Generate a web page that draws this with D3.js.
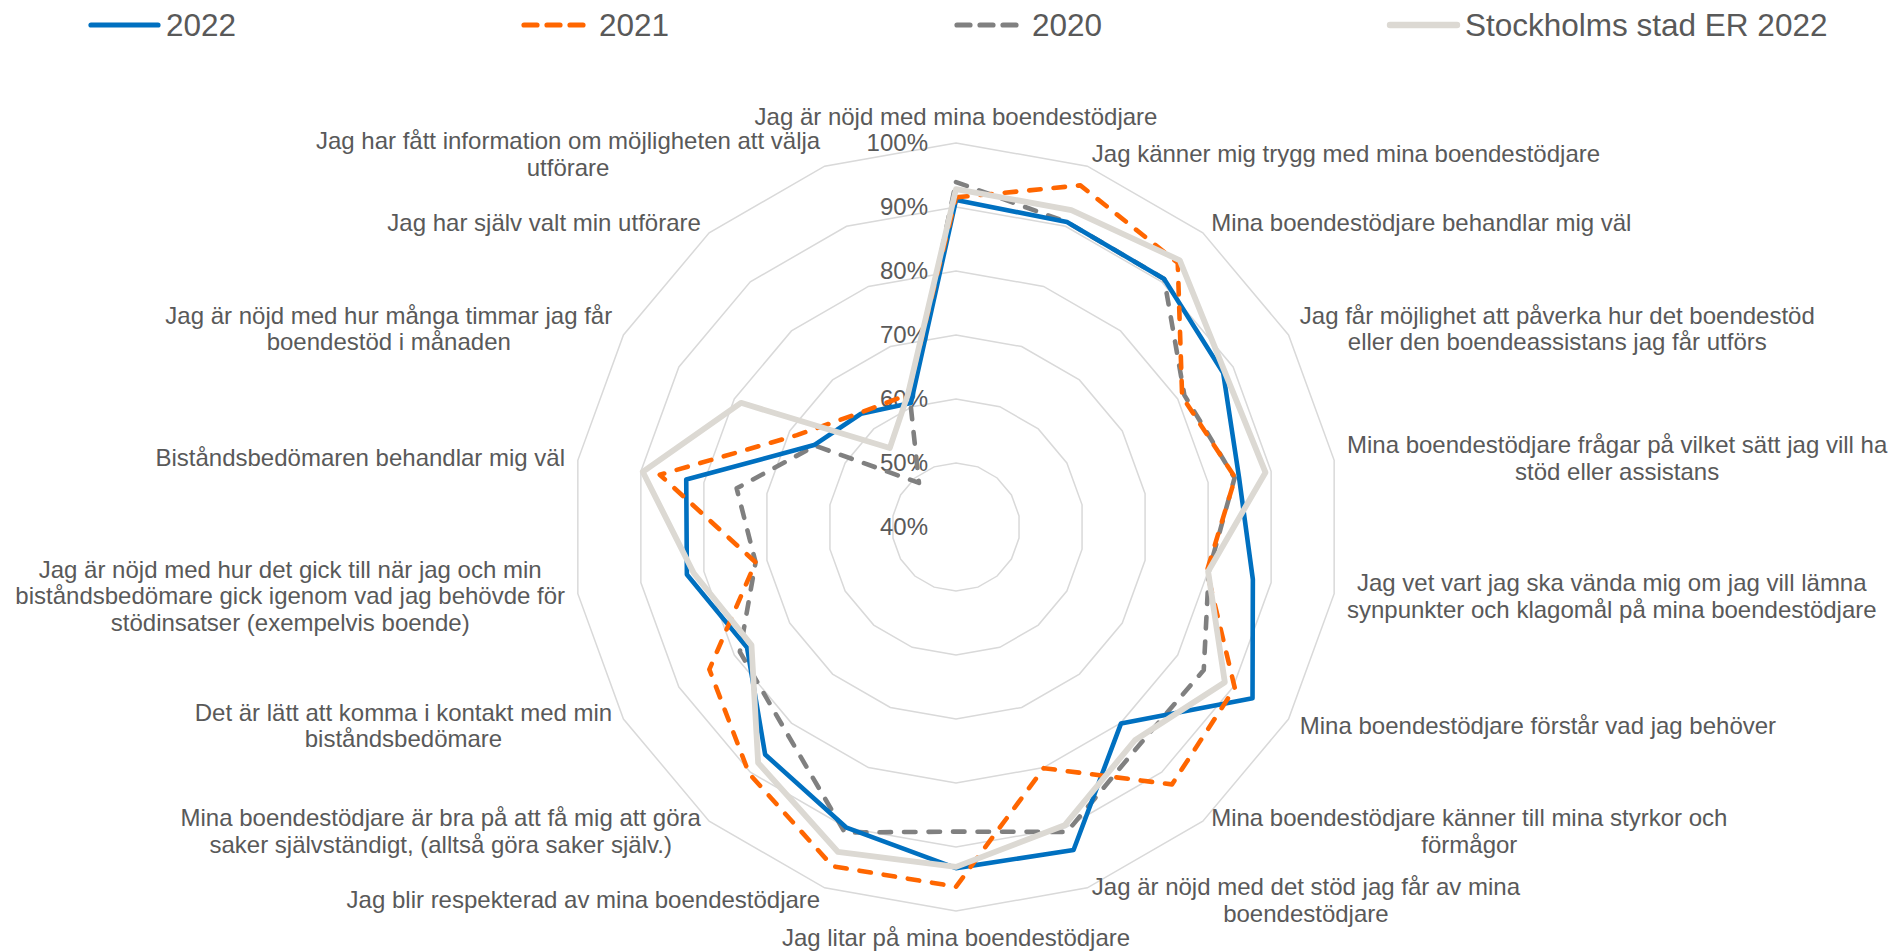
<!DOCTYPE html>
<html><head><meta charset="utf-8">
<script src="https://cdn.jsdelivr.net/npm/d3@7"></script>
<style>
html,body{margin:0;padding:0;background:#fff;overflow:hidden;}
svg{display:block;}
text{font-family:"Liberation Sans",Arial,sans-serif;fill:#595959;}
</style>
</head><body>
<svg id="chart" width="1891" height="952"></svg>
<script>
// ---- data ----
const categories = [
  ["Jag är nöjd med mina boendestödjare"],
  ["Jag känner mig trygg med mina boendestödjare"],
  ["Mina boendestödjare behandlar mig väl"],
  ["Jag får möjlighet att påverka hur det boendestöd", "eller den boendeassistans jag får utförs"],
  ["Mina boendestödjare frågar på vilket sätt jag vill ha", "stöd eller assistans"],
  ["Jag vet vart jag ska vända mig om jag vill lämna", "synpunkter och klagomål på mina boendestödjare"],
  ["Mina boendestödjare förstår vad jag behöver"],
  ["Mina boendestödjare känner till mina styrkor och", "förmågor"],
  ["Jag är nöjd med det stöd jag får av mina", "boendestödjare"],
  ["Jag litar på mina boendestödjare"],
  ["Jag blir respekterad av mina boendestödjare"],
  ["Mina boendestödjare är bra på att få mig att göra", "saker självständigt, (alltså göra saker själv.)"],
  ["Det är lätt att komma i kontakt med min", "biståndsbedömare"],
  ["Jag är nöjd med hur det gick till när jag och min", "biståndsbedömare gick igenom vad jag behövde för", "stödinsatser (exempelvis boende)"],
  ["Biståndsbedömaren behandlar mig väl"],
  ["Jag är nöjd med hur många timmar jag får", "boendestöd i månaden"],
  ["Jag har själv valt min utförare"],
  ["Jag har fått information om möjligheten att välja", "utförare"]
];

const values2022 = [91.1, 90.7, 90.6, 88.2, 84.9, 87.1, 93.5, 80.1, 93.7, 93.3, 90.0, 86.4, 77.7, 82.7, 82.8, 65.6, 63.1, 60.6];
const values2021 = [91.5, 96.8, 93.9, 80.8, 84.3, 79.8, 90.3, 92.5, 80.1, 96.2, 96.4, 90.3, 84.5, 71.8, 87.0, 68.7, 63.3, 62.0];
const values2020 = [93.9, 90.7, 90.6, 81.2, 84.2, 80.1, 84.7, 84.5, 90.7, 87.6, 90.8, 81.5, 79.0, 71.8, 74.8, 65.4, 49.0, 60.9];
const valuesStockholm = [92.8, 92.7, 94.4, 88.5, 89.1, 80.0, 88.5, 83.5, 89.6, 93.1, 94.0, 88.1, 76.9, 81.6, 89.7, 78.8, 56.1, 62.0];

const seriesNames = ["2022", "2021", "2020", "Stockholms stad ER 2022"];
const tickValues = [40, 50, 60, 70, 80, 90, 100];
const tickLabels = ["40%", "50%", "60%", "70%", "80%", "90%", "100%"];

// ---- styles ----
const styles = [
  {color: "#0070C0", width: 4.6, dash: null},
  {color: "#FF6600", width: 4.6, dash: "11.5,13"},
  {color: "#808080", width: 4.6, dash: "11.5,13"},
  {color: "#DCD9D3", width: 5.8, dash: null}
];
const allSeries = [values2022, values2021, values2020, valuesStockholm];
const drawOrder = [2, 0, 1, 3];

// ---- layout ----
const cx = 956, cy = 527, R = 384;
const svg = d3.select("#chart");
const n = categories.length;

const angle = d3.scaleLinear().domain([0, n]).range([0, 2 * Math.PI]);
const radius = d3.scaleLinear().domain([40, 100]).range([0, R]);

const g = svg.append("g").attr("transform", `translate(${cx},${cy})`);

// grid rings
const ringLine = d3.lineRadial()
  .angle((d, i) => angle(i))
  .radius(d => radius(d))
  .curve(d3.curveLinearClosed);

g.append("g").selectAll("path")
  .data(tickValues.filter(v => v > 40))
  .join("path")
  .attr("d", v => ringLine(d3.range(n).map(() => v)))
  .attr("fill", "none")
  .attr("stroke", "#D9D9D9")
  .attr("stroke-width", 1.5);

// tick labels
g.append("g").selectAll("text")
  .data(tickValues)
  .join("text")
  .attr("x", -28)
  .attr("y", v => -radius(v))
  .attr("dy", "0.35em")
  .attr("text-anchor", "end")
  .attr("font-size", 24)
  .text((v, i) => tickLabels[i]);

// category labels
const lineH = 26.5, pad = 13;
const labG = g.append("g");
categories.forEach((lines, i) => {
  const a = angle(i);
  const s = Math.sin(a), c = -Math.cos(a);
  const ax = (R + pad) * s, ay = (R + pad) * c;
  const t = labG.append("g");
  const texts = lines.map((ln, k) => t.append("text")
    .attr("text-anchor", "middle")
    .attr("font-size", 24)
    .attr("dy", "0.35em")
    .text(ln));
  const w = d3.max(texts, tx => tx.node().getComputedTextLength());
  const h = lines.length * lineH;
  let bx, by;
  if (Math.abs(s) < 0.01) bx = ax; else if (s > 0) bx = ax + w / 2; else bx = ax - w / 2;
  if (Math.abs(s) < 0.01) by = c < 0 ? ay - h / 2 : ay + h / 2; else by = ay;
  texts.forEach((tx, k) => tx.attr("x", bx).attr("y", by - h / 2 + lineH * (k + 0.5)));
});

// series
const seriesLine = d3.lineRadial()
  .angle((d, i) => angle(i))
  .radius(d => radius(d))
  .curve(d3.curveLinearClosed);

g.append("g").selectAll("path")
  .data(drawOrder)
  .join("path")
  .attr("d", k => seriesLine(allSeries[k]))
  .attr("fill", "none")
  .attr("stroke", k => styles[k].color)
  .attr("stroke-width", k => styles[k].width)
  .attr("stroke-dasharray", k => styles[k].dash)
  .attr("stroke-linecap", k => styles[k].dash ? "round" : "butt")
  .attr("stroke-linejoin", "round");

// legend
const leg = svg.append("g").attr("transform", "translate(89,25)");
const items = leg.selectAll("g").data(seriesNames).join("g")
  .attr("transform", (d, i) => `translate(${i * 433},0)`);
items.append("line")
  .attr("x1", 2).attr("x2", 69).attr("y1", 0).attr("y2", 0)
  .attr("stroke", (d, i) => styles[i].color)
  .attr("stroke-width", (d, i) => styles[i].width + 0.6)
  .attr("stroke-dasharray", (d, i) => styles[i].dash ? "13,10" : null)
  .attr("stroke-linecap", "round");
items.append("text")
  .attr("x", 77).attr("y", 0).attr("dy", "0.35em")
  .attr("font-size", 31.5)
  .text(d => d);
</script>
</body></html>
